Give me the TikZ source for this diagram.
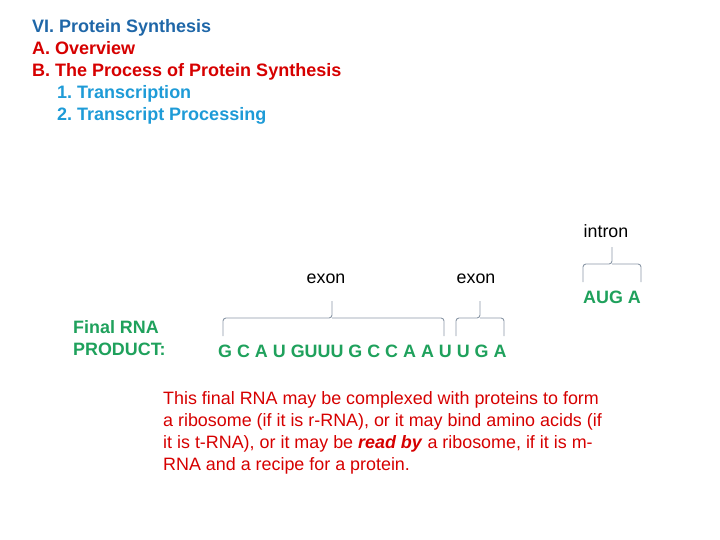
\documentclass[tikz,border=0pt]{standalone}
\usepackage{fontspec}
\setmainfont{Liberation Sans}
\frenchspacing
\definecolor{tblue}{HTML}{1F67A8}
\definecolor{tred}{HTML}{D60000}
\definecolor{tcyan}{HTML}{1E9BD7}
\definecolor{tgreen}{HTML}{1FA15C}
\definecolor{bgray}{HTML}{8A97A6}
\tikzset{
  hd/.style={anchor=base west, inner sep=0pt, font=\fontsize{18}{20}\selectfont\bfseries},
  lbl/.style={inner sep=0pt, font=\fontsize{17.8}{20}\selectfont},
  grn/.style={inner sep=0pt, text=tgreen, font=\fontsize{17.9}{22}\selectfont\bfseries},
  brc/.style={draw=bgray, line width=0.9pt, rounded corners=3pt},
}
\begin{document}
\begin{tikzpicture}[x=1pt,y=-1pt]
\useasboundingbox (0,0) rectangle (720,540);
\node[hd, text=tblue] (t1) at (32,32.5) {VI. Protein Synthesis};
\node[hd, text=tred] (t2) at (32,54.5) {A. Overview};
\node[hd, text=tred] (t3) at (32,76.5) {B. The Process of Protein Synthesis};
\node[hd, text=tcyan] (t4) at (57,98.5) {1. Transcription};
\node[hd, text=tcyan] (t5) at (57,120.5) {2. Transcript Processing};

\node[lbl] (intron) at (606,231) {intron};
\node[lbl] (exon1) at (326,279) {exon};
\node[lbl] (exon2) at (476,279) {exon};

\node[grn] (aug) at (612,297) {AUG A};
\node[grn, anchor=west, align=left] (final) at (73,338) {Final RNA\\PRODUCT:};
\node[grn, anchor=west] (seq) at (218,351) {G C A U GUUU G C C A A U U G A};

% braces
\draw[brc] (583,282) -- (583,264) -- (612,264) -- (612,247);
\draw[brc] (641,282) -- (641,264) -- (612,264);
\draw[brc] (223,336) -- (223,318) -- (332,318) -- (332,301);
\draw[brc] (444,336) -- (444,318) -- (332,318);
\draw[brc] (456,336) -- (456,318) -- (480,318) -- (480,301);
\draw[brc] (504,336) -- (504,318) -- (480,318);

\node[inner sep=0pt, anchor=north west, align=left, text=tred,
  font=\fontsize{17.9}{22}\selectfont] (para) at (163,391)
  {This final RNA may be complexed with proteins to form\\
   a ribosome (if it is r-RNA), or it may bind amino acids (if\\
   it is t-RNA), or it may be \textbf{\textit{read by}} a ribosome, if it is m-\\
   RNA and a recipe for a protein.};
\end{tikzpicture}
\end{document}
